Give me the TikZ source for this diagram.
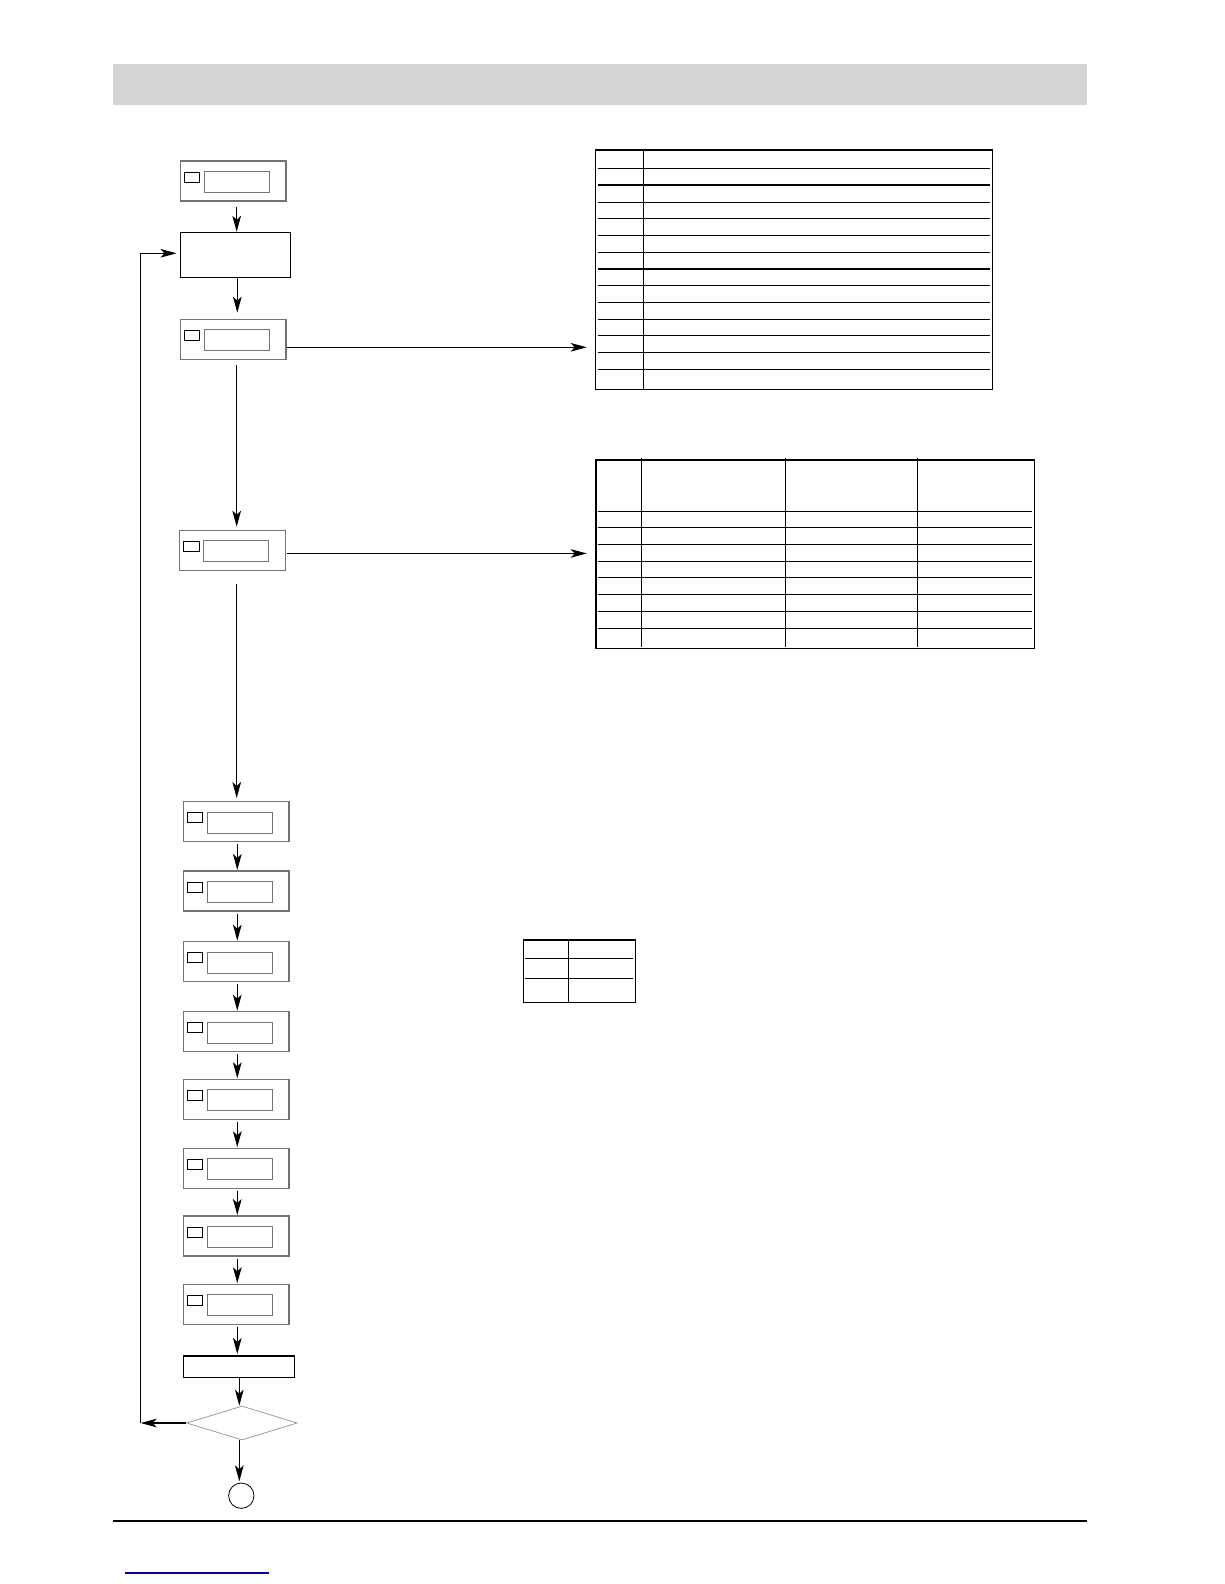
\documentclass[tikz,border=0pt]{standalone}
\usetikzlibrary{arrows.meta,shapes.geometric}
\def\pxu{0.75pt}
\tikzset{
  x=0.75pt, y=-0.75pt,
  arr/.style={draw=black, line width=0.8pt, -{Stealth[length=12pt,width=6.5pt,inset=3pt]}},
  plain/.style={draw=black, line width=0.8pt},
  dispouter/.style={draw=black!55, line width=0.8pt, rectangle, inner sep=0pt, outer sep=0pt, minimum width=105.7*\pxu, minimum height=40*\pxu},
  dispsq/.style={draw=black, line width=0.6pt, rectangle, inner sep=0pt, outer sep=0pt, minimum width=15.4*\pxu, minimum height=10*\pxu},
  dispin/.style={draw=black!55, line width=0.7pt, rectangle, inner sep=0pt, outer sep=0pt, minimum width=64.7*\pxu, minimum height=21*\pxu},
  tbl/.style={draw=black, line width=0.9pt, rectangle, inner sep=0pt, outer sep=0pt},
  tline/.style={draw=black, line width=0.8pt},
}
\newcommand\dispbox[3]{%
  \node[dispouter] (#1) at (#2+52.85,#3+20) {};
  \node[dispsq] (#1s) at (#2+11.7,#3+16) {};
  \node[dispin] (#1i) at (#2+56.35,#3+21) {};
}
\begin{document}
\begin{tikzpicture}
\useasboundingbox (0,0) rectangle (1224,1584);
% header banner and footer rules
\node[fill=black!17, inner sep=0pt, minimum width=974*\pxu, minimum height=41*\pxu] (banner) at (600,84.5) {};
\node[fill=black, inner sep=0pt, minimum width=974*\pxu, minimum height=2.6*\pxu] (footrule) at (600,1521) {};
\node[fill=blue!55!black, inner sep=0pt, minimum width=144*\pxu, minimum height=1.5*\pxu] (link) at (197,1573) {};

% left column
\dispbox{B1}{180.3}{161}
\node[plain, rectangle, inner sep=0pt, minimum width=110*\pxu, minimum height=45*\pxu] (B2) at (235.3,254.8) {};
\dispbox{B3}{180.3}{319.3}
\dispbox{B4}{179.7}{530.3}
\dispbox{B5}{183.3}{801.7}
\dispbox{B6}{183.3}{871}
\dispbox{B7}{183.3}{941.7}
\dispbox{B8}{183.3}{1011.7}
\dispbox{B9}{183.3}{1079.3}
\dispbox{B10}{183.3}{1148.3}
\dispbox{B11}{183.3}{1216}
\dispbox{B12}{183.3}{1284.3}
\node[plain, rectangle, inner sep=0pt, minimum width=111.4*\pxu, minimum height=21.3*\pxu] (R13) at (239,1366.65) {};
\node[draw=black!45, line width=0.5pt, diamond, aspect=3.25, inner sep=0pt, minimum width=110.6*\pxu, minimum height=34*\pxu] (D) at (242,1423) {};
\node[draw=black, line width=0.6pt, circle, inner sep=0pt, minimum size=25.4*\pxu] (C) at (241.3,1495.7) {};

% columns for vertical arrows
\coordinate (ca) at (236.7,0);
\coordinate (cb) at (237.3,0);
\coordinate (cc) at (239.3,0);

\draw[arr, shorten <=5.7*\pxu] (B1.south -| ca) -- (B2.north -| ca);
\draw[arr, shorten >=6.6*\pxu] (B2.south -| cb) -- (B3.north -| cb);
\draw[arr, shorten <=5.7*\pxu, shorten >=3.6*\pxu] (B3.south -| ca) -- (B4.north -| ca);
\draw[arr, shorten <=13.3*\pxu, shorten >=3.7*\pxu] (B4.south -| ca) -- (B5.north -| ca);
\draw[arr, shorten <=2.6*\pxu, shorten >=1*\pxu] (B5.south -| cb) -- (B6.north -| cb);
\draw[arr, shorten <=2.6*\pxu, shorten >=1*\pxu] (B6.south -| cb) -- (B7.north -| cb);
\draw[arr, shorten <=2.6*\pxu, shorten >=1*\pxu] (B7.south -| cb) -- (B8.north -| cb);
\draw[arr, shorten <=2.6*\pxu, shorten >=1*\pxu] (B8.south -| cb) -- (B9.north -| cb);
\draw[arr, shorten <=2.6*\pxu, shorten >=1*\pxu] (B9.south -| cb) -- (B10.north -| cb);
\draw[arr, shorten <=2.6*\pxu, shorten >=1*\pxu] (B10.south -| cb) -- (B11.north -| cb);
\draw[arr, shorten <=2.6*\pxu, shorten >=1*\pxu] (B11.south -| cb) -- (B12.north -| cb);
\draw[arr, shorten <=2.6*\pxu, shorten >=1.5*\pxu] (B12.south -| cb) -- (R13.north -| cb);
\draw[arr] (R13.south -| cc) -- (D.north -| cc);
\draw[arr, shorten >=1.3*\pxu] (D.south -| cc) -- (C.north -| cc);

% loop back
\coordinate (corner) at (140.7,1423);
\draw[arr] (D.west) -- (corner);
\coordinate (lp) at (0,253.3);
\draw[arr, shorten >=3.3*\pxu] (corner) |- (lp -| B2.west);

% tables
\node[tbl, minimum width=397*\pxu, minimum height=239.3*\pxu] (T1) at (793.8,269.65) {};
\node[tbl, minimum width=438.3*\pxu, minimum height=188.3*\pxu] (T2) at (815.15,554.15) {};
\node[tbl, minimum width=112*\pxu, minimum height=62.3*\pxu] (T3) at (579.3,971.15) {};

% horizontal arrows to tables
\coordinate (h1) at ([yshift=-8*\pxu]B3.east);
\coordinate (h2) at ([yshift=-3.15*\pxu]B4.east);
\draw[arr, shorten <=1.3*\pxu, shorten >=8.6*\pxu] (h1) -- (h1 -| T1.west);
\draw[arr, shorten <=2*\pxu, shorten >=9.3*\pxu] (h2) -- (h2 -| T2.west);

% table 1 lines
\draw[tline] (643.3,150) -- (643.3,389.3);
\foreach \yy in {168.3,185,202.3,218.3,235.7,252.3,269,285.7,302.3,319.3,335.7,352.3,369.3}
  \draw[tline] (598,\yy) -- (990,\yy);

% table 2 lines
\foreach \xx in {641.3,785.3,917.3}
  \draw[tline] (\xx,457.5) -- (\xx,646.5);
\foreach \yy in {511.3,527.3,544.3,561.3,577.7,594.7,611.3,628.3}
  \draw[tline] (598,\yy) -- (1031.7,\yy);

% table 3 lines
\draw[tline] (568.7,940) -- (568.7,1002.3);
\foreach \yy in {958.3,978.3}
  \draw[tline] (525,\yy) -- (632.7,\yy);
\end{tikzpicture}
\end{document}
